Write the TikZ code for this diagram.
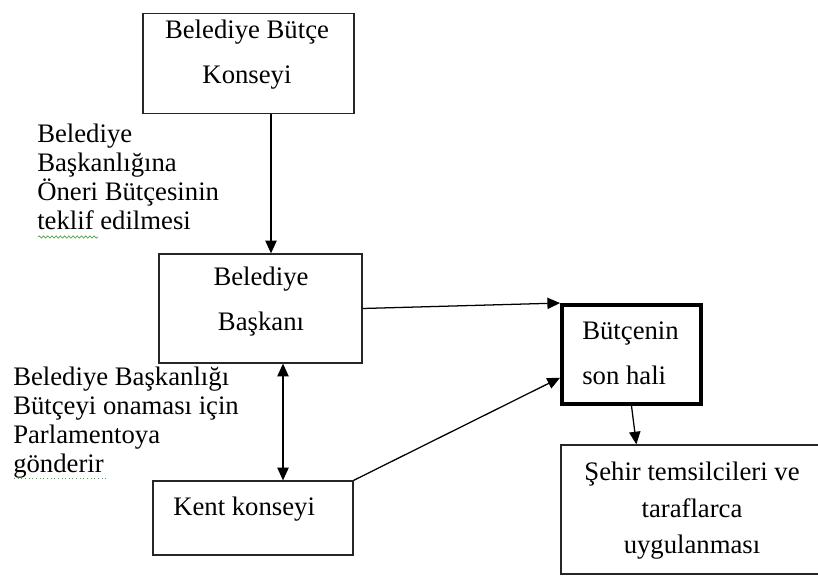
\documentclass[tikz,border=0pt]{standalone}
\usepackage{fontspec}
\setmainfont{Liberation Serif}
\usepackage{tikz}
\usetikzlibrary{arrows.meta,decorations.pathmorphing}

\definecolor{spellgreen}{RGB}{70,170,70}

\begin{document}
\begin{tikzpicture}[
  kutu/.style={draw=black!85, line width=0.9pt, inner sep=0pt},
  kalin/.style={kutu, draw=black, line width=2.8pt},
  yazi/.style={font=\fontsize{19}{32}\selectfont, inner sep=0pt},
  ok/.style={line width=0.9pt, -{Triangle[length=9pt,width=8pt]}},
  ciftok/.style={line width=0.9pt, {Triangle[length=9pt,width=8pt]}-{Triangle[length=9pt,width=8pt]}},
  dalga/.style={spellgreen, line width=0.5pt, decorate, decoration={snake, amplitude=0.8pt, segment length=3pt}},
  noktali/.style={spellgreen, line width=0.6pt, dotted}
]
\useasboundingbox (0,0) rectangle (20.45,14.4);

\node[kutu, minimum width=5.275cm, minimum height=2.5cm] (konsey) at (6.2125,12.8125) {};
\node[kutu, minimum width=5.075cm, minimum height=2.725cm] (baskan) at (6.5125,6.6875) {};
\node[kalin, minimum width=3.475cm, minimum height=2.475cm] (sonhali) at (15.7875,5.5375) {};
% sag kenari resmin disinda kaliyor
\node[kutu, minimum width=7cm, minimum height=3.225cm] (uygulama) at (17.525,1.6625) {};
\node[kutu, minimum width=5cm, minimum height=1.85cm] (kent) at (6.325,1.45) {};

\node[yazi, align=center] (konseyyazi) at (6.175,13.0375) {Belediye Bütçe\\Konseyi};
\node[yazi, align=center] (baskanyazi) at (6.525,6.85) {Belediye\\Başkanı};
\node[yazi, align=left, anchor=west] (sonhaliyazi) at (14.55,5.5625) {Bütçenin\\son hali};
\node[yazi, align=center, font=\fontsize{19}{26}\selectfont] (uygulamayazi) at (17.3,1.625) {Şehir temsilcileri ve\\taraflarca\\uygulanması};
\node[yazi, anchor=base west] (kentyazi) at (4.325,1.525) {Kent konseyi};

% kenardaki aciklamalar
\node[yazi, align=left, anchor=west, font=\fontsize{19}{20.6}\selectfont] (teklifyazi) at (0.925,9.9875) {Belediye\\Başkanlığına\\Öneri Bütçesinin\\teklif edilmesi};
\node[yazi, align=left, anchor=west, font=\fontsize{19}{20.6}\selectfont] (onayyazi) at (0.325,3.825) {Belediye Başkanlığı\\Bütçeyi onaması için\\Parlamentoya\\gönderir};

% yazim denetimi cizgileri
\draw[dalga] (0.95,8.475) -- (2.45,8.475);
\draw[noktali] (0.35,2.45) -- (2.65,2.45);

\coordinate (okust) at (6.775,0);
\coordinate (okalt) at (7.075,0);

\draw[ok] (konsey.south -| okust) -- (baskan.north -| okust);
\draw[ok] (baskan.east) -- (sonhali.north west);
\draw[ok] (kent.north east) -- (sonhali.198);
\draw[ok] (sonhali.south) -- ([xshift=1.9cm]uygulama.north west);
\draw[ciftok] (baskan.south -| okalt) -- (kent.north -| okalt);
\end{tikzpicture}
\end{document}
